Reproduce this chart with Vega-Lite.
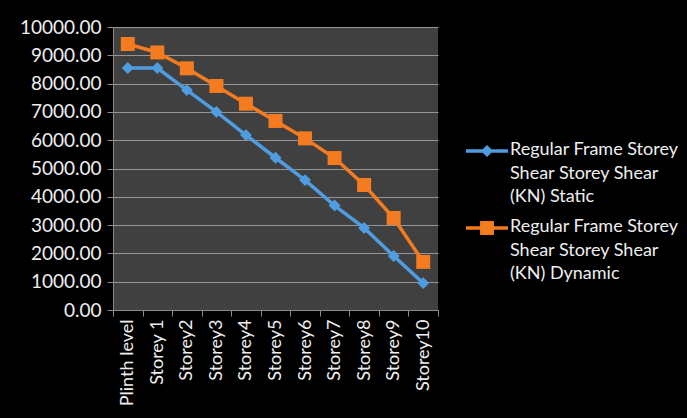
{
  "$schema": "https://vega.github.io/schema/vega-lite/v6.json",
  "width": 325,
  "height": 283,
  "autosize": {"type": "none"},
  "padding": {"left": 113, "top": 27, "right": 249, "bottom": 108},
  "background": "#000000",
  "config": {
    "view": {"fill": "#404040", "stroke": null},
    "font": "Lato"
  },
  "data": {
    "values": [
      {"storey": "Plinth level", "series": "Static", "value": 8550},
      {"storey": "Storey 1", "series": "Static", "value": 8550},
      {"storey": "Storey2", "series": "Static", "value": 7770},
      {"storey": "Storey3", "series": "Static", "value": 7000},
      {"storey": "Storey4", "series": "Static", "value": 6180},
      {"storey": "Storey5", "series": "Static", "value": 5380},
      {"storey": "Storey6", "series": "Static", "value": 4590},
      {"storey": "Storey7", "series": "Static", "value": 3690},
      {"storey": "Storey8", "series": "Static", "value": 2900},
      {"storey": "Storey9", "series": "Static", "value": 1910},
      {"storey": "Storey10", "series": "Static", "value": 950},
      {"storey": "Plinth level", "series": "Dynamic", "value": 9400},
      {"storey": "Storey 1", "series": "Dynamic", "value": 9100},
      {"storey": "Storey2", "series": "Dynamic", "value": 8540},
      {"storey": "Storey3", "series": "Dynamic", "value": 7915},
      {"storey": "Storey4", "series": "Dynamic", "value": 7290},
      {"storey": "Storey5", "series": "Dynamic", "value": 6680},
      {"storey": "Storey6", "series": "Dynamic", "value": 6065},
      {"storey": "Storey7", "series": "Dynamic", "value": 5370},
      {"storey": "Storey8", "series": "Dynamic", "value": 4417},
      {"storey": "Storey9", "series": "Dynamic", "value": 3250},
      {"storey": "Storey10", "series": "Dynamic", "value": 1700}
    ]
  },
  "encoding": {
    "x": {
      "field": "storey",
      "type": "nominal",
      "sort": null,
      "title": null,
      "scale": {"type": "band", "paddingInner": 0, "paddingOuter": 0},
      "axis": {
        "labelAngle": -90,
        "labelAlign": "right",
        "labelBaseline": "middle",
        "labelColor": "#eeeeee",
        "labelFontSize": 18,
        "labelPadding": 3,
        "tickBand": "extent",
        "tickColor": "#8a8a8a",
        "tickSize": 6,
        "domainColor": "#8a8a8a",
        "grid": false
      }
    },
    "y": {
      "field": "value",
      "type": "quantitative",
      "title": null,
      "scale": {"domain": [0, 10000], "nice": false},
      "axis": {
        "values": [0, 1000, 2000, 3000, 4000, 5000, 6000, 7000, 8000, 9000, 10000],
        "format": ".2f",
        "labelColor": "#eeeeee",
        "labelFontSize": 19,
        "labelPadding": 6,
        "tickColor": "#8a8a8a",
        "tickSize": 6,
        "domainColor": "#8a8a8a",
        "gridColor": "#959595",
        "gridWidth": 1.2
      }
    },
    "color": {
      "field": "series",
      "type": "nominal",
      "scale": {"domain": ["Static", "Dynamic"], "range": ["#4f9de0", "#f47b20"]},
      "legend": {
        "orient": "none",
        "legendX": 353,
        "legendY": 103,
        "title": null,
        "symbolSize": 1764,
        "symbolStrokeWidth": 0,
        "labelFontSize": 18,
        "labelColor": "#eeeeee",
        "labelOffset": 2,
        "labelLimit": 300,
        "rowPadding": 1,
        "labelExpr": "datum.label == 'Static' ? ['Regular Frame Storey', 'Shear Storey Shear', '(KN) Static'] : ['Regular Frame Storey', 'Shear Storey Shear', '(KN) Dynamic']",
        "encode": {
          "symbols": {
            "update": {
              "shape": {"signal": "datum.value == 'Static' ? 'M-1,-0.08H1V0.08H-1Z M0,-0.29L0.29,0L0,0.29L-0.29,0Z' : 'M-1,-0.08H1V0.08H-1Z M-0.33,-0.33H0.33V0.33H-0.33Z'"},
              "fill": {"scale": "color", "field": "value"},
              "stroke": {"value": "transparent"},
              "opacity": {"value": 1}
            }
          },
          "labels": {
            "update": {
              "lineHeight": {"value": 23.5},
              "baseline": {"value": "top"},
              "dy": {"value": -10}
            }
          }
        }
      }
    }
  },
  "layer": [
    {"mark": {"type": "line", "strokeWidth": 3.5}},
    {
      "transform": [{"filter": "datum.series == 'Static'"}],
      "mark": {"type": "point", "filled": true, "opacity": 1, "size": 196, "shape": "M0,-0.85L0.85,0L0,0.85L-0.85,0Z"}
    },
    {
      "transform": [{"filter": "datum.series == 'Dynamic'"}],
      "mark": {"type": "point", "filled": true, "opacity": 1, "size": 196, "shape": "square"}
    }
  ]
}
